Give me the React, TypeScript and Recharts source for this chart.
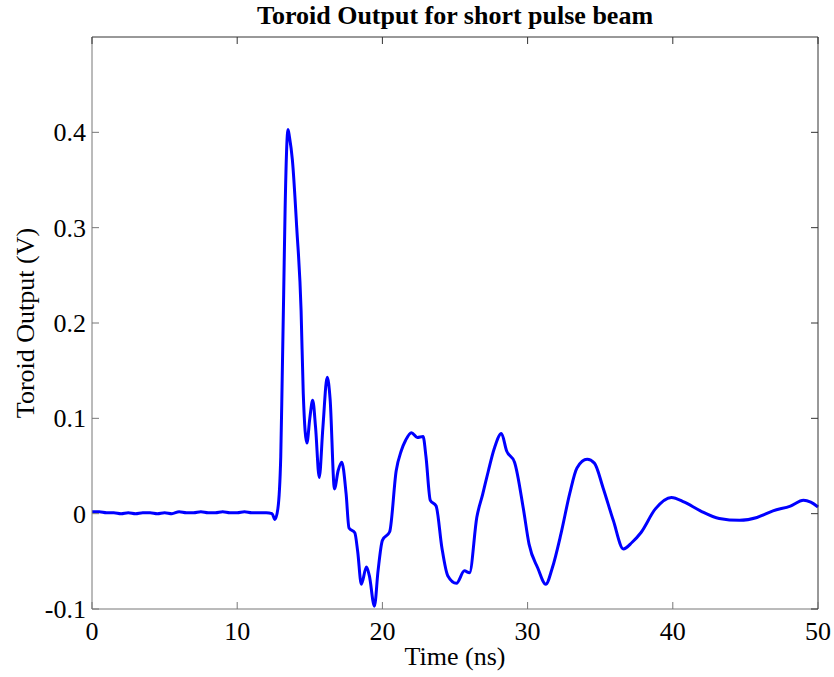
import React from "react";
import { LineChart, Line, XAxis, YAxis, Label } from "recharts";

// time (ns) and toroid output (V)
const times = [
  0, 0.5, 1, 1.5, 2, 2.5, 3, 3.5, 4, 4.5, 5, 5.5, 6, 6.5, 7, 7.5, 8, 8.5, 9, 9.5,
  10, 10.5, 11, 11.5, 12, 12.4, 12.6, 12.8, 13.0, 13.1, 13.2, 13.3, 13.5, 13.6,
  13.8, 14.1, 14.4, 14.55, 14.8, 15.0, 15.2, 15.4, 15.65, 15.9, 16.2, 16.4, 16.7,
  16.95, 17.2, 17.5, 17.7, 18.1, 18.3, 18.55, 18.9, 19.1, 19.45, 19.7, 20.0, 20.5,
  20.95, 21.3, 21.6, 22.0, 22.4, 22.8, 23.0, 23.3, 23.7, 24.1, 24.5, 25.1, 25.65,
  26.0, 26.5, 26.9, 27.3, 27.7, 28.2, 28.55, 29.1, 29.7, 30.1, 30.7, 31.25, 31.7,
  32.3, 32.9, 33.4, 34.1, 34.6, 35.2, 35.9, 36.6, 37.2, 37.8, 38.8, 39.9, 40.8,
  41.9, 43.2, 44.6, 45.8, 46.9, 48.1, 49.0, 49.5, 50,
];
const volts = [
  0.002, 0.002, 0.001, 0.001, 0.0, 0.001, 0.0, 0.001, 0.001, 0.0, 0.001, 0.0, 0.002,
  0.001, 0.001, 0.002, 0.001, 0.001, 0.002, 0.001, 0.001, 0.002, 0.001, 0.001, 0.001,
  0.0, -0.006, 0.005, 0.06, 0.143, 0.23, 0.32, 0.403, 0.395, 0.371, 0.3, 0.213, 0.126,
  0.074, 0.1, 0.119, 0.09, 0.038, 0.09, 0.143, 0.12, 0.026, 0.045, 0.054, 0.021,
  -0.015, -0.02, -0.04, -0.074, -0.056, -0.065, -0.097, -0.06, -0.028, -0.019, 0.045,
  0.066, 0.077, 0.085, 0.08, 0.081, 0.06, 0.014, 0.008, -0.036, -0.065, -0.073, -0.06,
  -0.062, -0.004, 0.02, 0.045, 0.068, 0.084, 0.066, 0.054, 0.006, -0.032, -0.057,
  -0.074, -0.057, -0.021, 0.021, 0.048, 0.057, 0.053, 0.027, -0.007, -0.037, -0.03,
  -0.02, 0.005, 0.017, 0.012, 0.003, -0.005, -0.007, -0.004, 0.003, 0.008, 0.014,
  0.012, 0.007,
];
const xTicks = [0, 10, 20, 30, 40, 50];
const yTicks = [-0.1, 0, 0.1, 0.2, 0.3, 0.4];

const data = times.map((t, i) => ({ t, v: volts[i] }));

const FONT = "'Liberation Serif', 'Times New Roman', serif";
const LEFT = 92;
const RIGHT = 818;
const TOP = 37;
const BOTTOM = 609;
const TICK = 7;

const XTick = (props: any) => {
  const { x, payload } = props;
  return (
    <g>
      <line x1={x} x2={x} y1={BOTTOM} y2={BOTTOM - TICK} stroke="#777" />
      <line x1={x} x2={x} y1={TOP} y2={TOP + TICK} stroke="#333" />
      <text x={x} y={640} textAnchor="middle" fontSize={26} fontFamily={FONT} fill="#000">
        {payload.value}
      </text>
    </g>
  );
};

const YTick = (props: any) => {
  const { y, payload } = props;
  const label = payload.value === 0 ? "0" : String(payload.value);
  return (
    <g>
      <line x1={LEFT} x2={LEFT + TICK} y1={y} y2={y} stroke="#777" />
      <line x1={RIGHT} x2={RIGHT - TICK} y1={y} y2={y} stroke="#333" />
      <text x={86} y={y + 9} textAnchor="end" fontSize={26} fontFamily={FONT} fill="#000">
        {label}
      </text>
    </g>
  );
};

const App: React.FC = () => {
  return (
    <div style={{ position: "absolute", left: 0, top: 0, width: 834, height: 677, background: "#fff" }}>
      <div
        style={{
          position: "absolute",
          left: 455,
          top: 3,
          transform: "translateX(-50%)",
          whiteSpace: "nowrap",
          fontFamily: FONT,
          fontWeight: "bold",
          fontSize: 26,
          lineHeight: 1,
        }}
      >
        Toroid Output for short pulse beam
      </div>
      <LineChart
        width={834}
        height={677}
        data={data}
        margin={{ top: TOP - 1, right: 834 - RIGHT - 1, left: 12, bottom: 8 }}
      >
        <XAxis
          dataKey="t"
          type="number"
          domain={[0, 50]}
          ticks={xTicks}
          height={60}
          axisLine={{ stroke: "#777" }}
          tickLine={false}
          tick={<XTick />}
          interval={0}
        >
          <Label
            value="Time (ns)"
            position="insideBottom"
            offset={4}
            style={{ fontFamily: FONT, fontSize: 26, fill: "#000" }}
          />
        </XAxis>
        <XAxis
          xAxisId="top"
          orientation="top"
          dataKey="t"
          type="number"
          domain={[0, 50]}
          height={1}
          axisLine={{ stroke: "#333" }}
          tick={false}
          tickLine={false}
        />
        <YAxis
          type="number"
          domain={[-0.1, 0.5]}
          ticks={yTicks}
          width={80}
          axisLine={{ stroke: "#777" }}
          tickLine={false}
          tick={<YTick />}
          interval={0}
        >
          <Label
            value="Toroid Output (V)"
            angle={-90}
            position="insideLeft"
            offset={13}
            style={{ fontFamily: FONT, fontSize: 26, fill: "#000", textAnchor: "middle" }}
          />
        </YAxis>
        <YAxis
          yAxisId="right"
          orientation="right"
          type="number"
          domain={[-0.1, 0.5]}
          width={1}
          axisLine={{ stroke: "#333" }}
          tick={false}
          tickLine={false}
        />
        <Line
          type="monotone"
          dataKey="v"
          stroke="#0000ff"
          strokeWidth={3}
          dot={false}
          isAnimationActive={false}
        />
      </LineChart>
    </div>
  );
};

export default App;
